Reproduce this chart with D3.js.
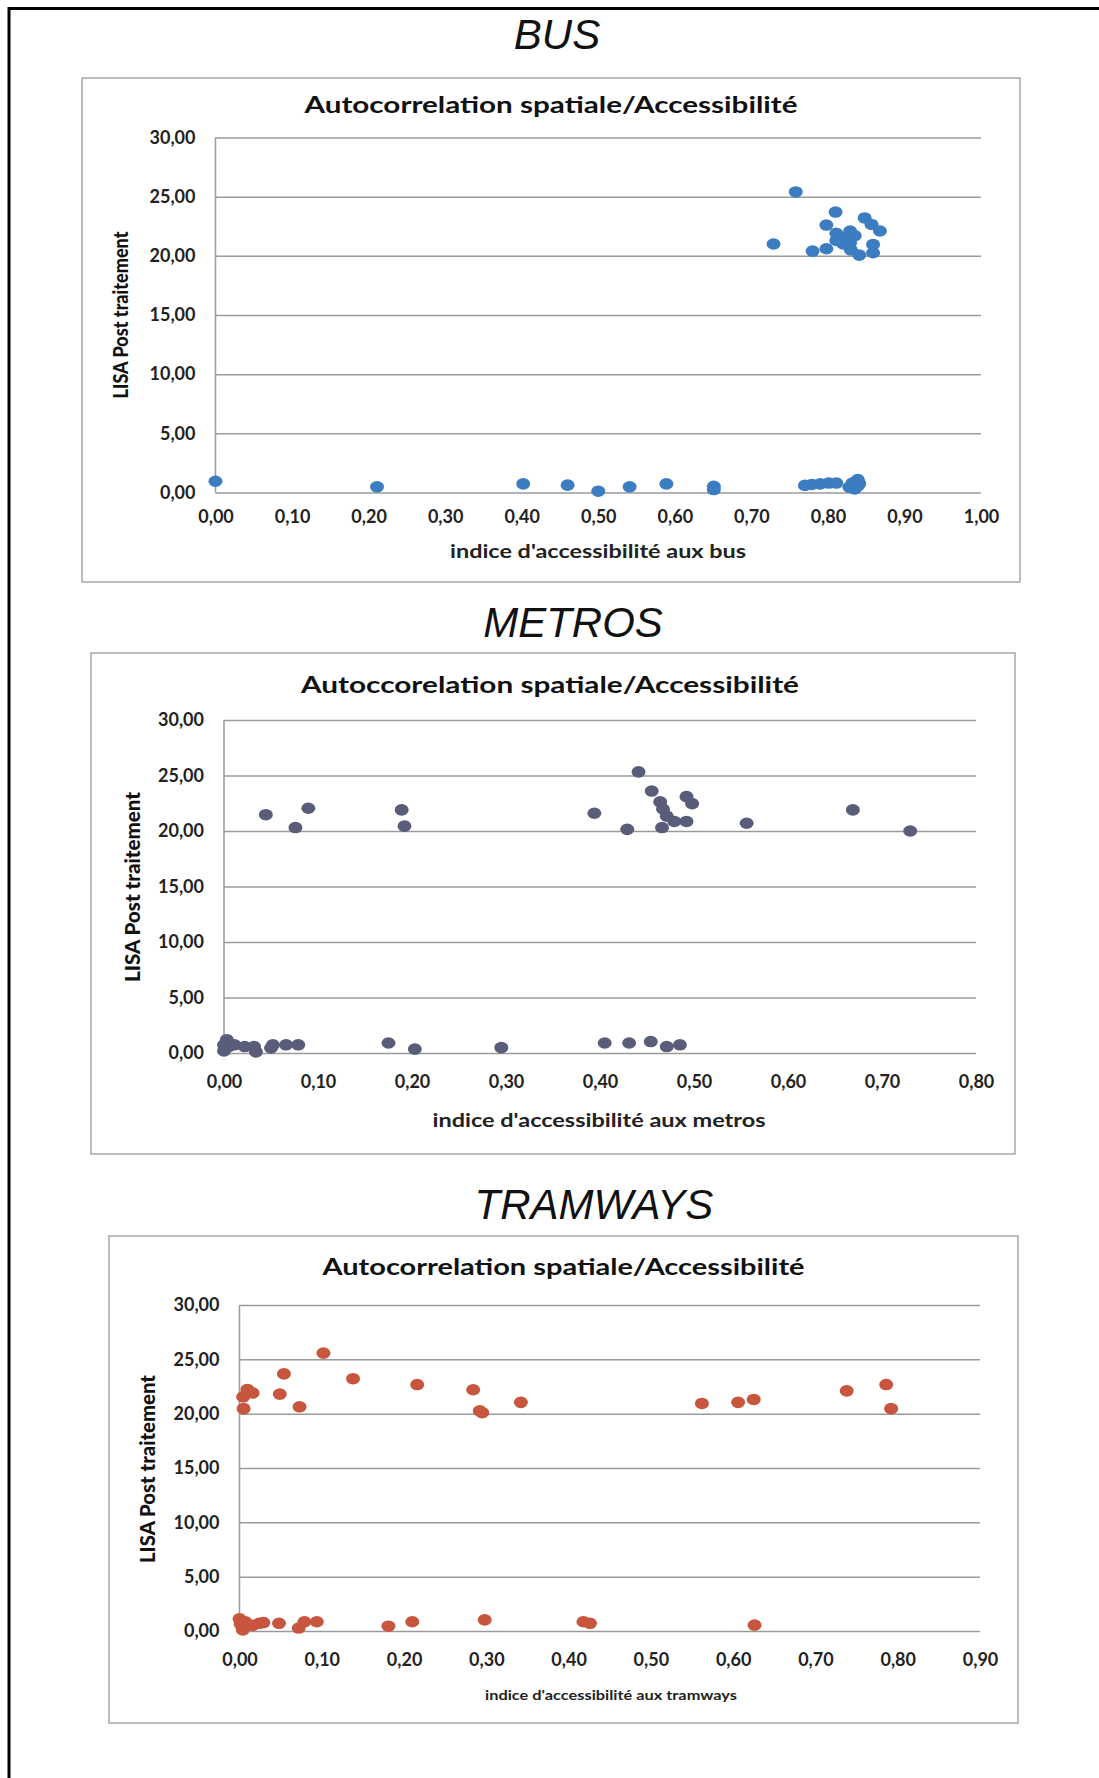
<!DOCTYPE html>
<html>
<head>
<meta charset="utf-8">
<script src="https://cdn.jsdelivr.net/npm/d3@7"></script>
<style>
  body { margin: 0; background: #fff; }
  svg { display: block; }
  .heading { font-family: "Liberation Sans", Arial, sans-serif; font-style: italic; font-size: 42px; fill: #111; }
  .ctitle { font-family: Lato, "Open Sans", sans-serif; font-weight: bold; font-size: 22px; fill: #111; }
  .tick text { font-family: Lato, "Open Sans", sans-serif; font-weight: bold; font-size: 18px; fill: #222; }
  .ytitle { font-family: Lato, "Open Sans", sans-serif; font-weight: 900; font-size: 20px; fill: #111; }
  .xtitle { font-family: Lato, "Open Sans", sans-serif; font-weight: bold; font-size: 18px; fill: #222; }
</style>
</head>
<body>
<svg id="page"></svg>
<script>
var width = 1099,
  height = 1778;

// BUS
var busX = [0.00, 0.211, 0.402, 0.46, 0.50, 0.541, 0.589, 0.651, 0.651, 0.77, 0.779, 0.79, 0.801, 0.811, 0.828, 0.832, 0.835, 0.839, 0.839, 0.841,
  0.758, 0.729, 0.780, 0.798, 0.798, 0.810, 0.811, 0.811, 0.820, 0.829, 0.829, 0.830, 0.841, 0.848, 0.857, 0.859, 0.859, 0.868, 0.820, 0.835];
var busY = [0.95, 0.48, 0.73, 0.62, 0.11, 0.48, 0.73, 0.53, 0.25, 0.60, 0.68, 0.73, 0.80, 0.80, 0.45, 0.80, 0.30, 1.10, 0.55, 0.75,
  25.4, 21.0, 20.4, 20.6, 22.6, 23.7, 21.9, 21.3, 21.5, 22.1, 21.1, 20.5, 20.06, 23.2, 22.65, 20.96, 20.26, 22.1, 21.0, 21.7];

// METROS
var metroX = [0.0445, 0.076, 0.0897, 0.189, 0.192, 0.394, 0.429, 0.441, 0.455, 0.464, 0.467, 0.466, 0.471, 0.479, 0.492, 0.498, 0.492, 0.556, 0.669, 0.730,
  0.000, 0.000, 0.003, 0.005, 0.011, 0.022, 0.032, 0.034, 0.050, 0.052, 0.066, 0.079, 0.175, 0.203, 0.295, 0.405, 0.431, 0.454, 0.471, 0.485];
var metroY = [21.47, 20.31, 22.05, 21.9, 20.44, 21.6, 20.15, 25.33, 23.6, 22.63, 21.98, 20.31, 21.34, 20.86, 23.1, 22.47, 20.86, 20.7, 21.9, 20.0,
  0.74, 0.19, 1.2, 0.58, 0.74, 0.58, 0.58, 0.10, 0.45, 0.74, 0.74, 0.74, 0.90, 0.35, 0.48, 0.90, 0.90, 1.03, 0.58, 0.74];

// TRAMWAYS
var tramX = [0.0044, 0.005, 0.0096, 0.016, 0.049, 0.054, 0.073, 0.102, 0.138, 0.216, 0.284, 0.292, 0.295, 0.342, 0.562, 0.606, 0.625, 0.738, 0.786, 0.792,
  0.000, 0.0015, 0.004, 0.007, 0.011, 0.016, 0.024, 0.029, 0.048, 0.072, 0.079, 0.094, 0.181, 0.210, 0.298, 0.418, 0.426, 0.626];
var tramY = [21.55, 20.46, 22.23, 21.9, 21.8, 23.66, 20.63, 25.57, 23.22, 22.68, 22.2, 20.26, 20.09, 21.04, 20.94, 21.04, 21.31, 22.1, 22.68, 20.46,
  1.12, 0.61, 0.10, 0.85, 0.60, 0.51, 0.71, 0.78, 0.71, 0.27, 0.85, 0.85, 0.44, 0.85, 1.02, 0.85, 0.71, 0.54];

var yTicks = [0, 5, 10, 15, 20, 25, 30];
var busTicks = [0, 0.1, 0.2, 0.3, 0.4, 0.5, 0.6, 0.7, 0.8, 0.9, 1.0];
var metroTicks = [0, 0.1, 0.2, 0.3, 0.4, 0.5, 0.6, 0.7, 0.8];
var tramTicks = [0, 0.1, 0.2, 0.3, 0.4, 0.5, 0.6, 0.7, 0.8, 0.9];

var fr = d3.formatLocale({ decimal: ",", thousands: " ", grouping: [3], currency: ["", " €"] });
var fmt = fr.format(".2f");

var svg = d3.select("#page")
  .attr("width", width)
  .attr("height", height);

// outer frame (top and left edges only)
svg.append("path")
  .attr("d", "M9,1778 V8.5 H1099")
  .attr("fill", "none")
  .attr("stroke", "#000")
  .attr("stroke-width", 3);

var charts = [
  { heading: "BUS", hx: 557, hy: 34,
    box: [82, 78, 1020, 582], px: [215.5, 981], py: [492.5, 137.5],
    title: "Autocorrelation spatiale/Accessibilité", tx: 551, ty: 104, tw: 493,
    xt: "indice d'accessibilité aux bus", xtx: 598, xty: 551, xtw: 296, xfs: 18,
    ytx: 120, yty: 315, ytw: 167, xpad: 18,
    xdom: [0, 1], ticks: busTicks, xs: busX, ys: busY, color: "#3b7dc0" },
  { heading: "METROS", hx: 573, hy: 622,
    box: [91, 653, 1015, 1154], px: [224, 976], py: [1053, 720],
    title: "Autoccorelation spatiale/Accessibilité", tx: 550, ty: 684.5, tw: 498,
    xt: "indice d'accessibilité aux metros", xtx: 599, xty: 1119.5, xtw: 333, xfs: 18,
    ytx: 131.5, yty: 887, ytw: 190, xpad: 22,
    xdom: [0, 0.8], ticks: metroTicks, xs: metroX, ys: metroY, color: "#5a5d7a" },
  { heading: "TRAMWAYS", hx: 594, hy: 1204,
    box: [109, 1236, 1018, 1723], px: [239.5, 980], py: [1631, 1305],
    title: "Autocorrelation spatiale/Accessibilité", tx: 563.5, ty: 1266, tw: 482,
    xt: "indice d'accessibilité  aux tramways", xtx: 611, xty: 1694, xtw: 252, xfs: 14,
    ytx: 147, yty: 1469, ytw: 188, xpad: 22,
    xdom: [0, 0.9], ticks: tramTicks, xs: tramX, ys: tramY, color: "#c8553d" }
];

charts.forEach(function (c) {
  var g = svg.append("g");

  g.append("text")
    .attr("class", "heading")
    .attr("x", c.hx)
    .attr("y", c.hy)
    .attr("text-anchor", "middle")
    .attr("dominant-baseline", "central")
    .text(c.heading);

  g.append("rect")
    .attr("x", c.box[0])
    .attr("y", c.box[1])
    .attr("width", c.box[2] - c.box[0])
    .attr("height", c.box[3] - c.box[1])
    .attr("fill", "#fff")
    .attr("stroke", "#a8a8a8")
    .attr("stroke-width", 1.5);

  g.append("text")
    .attr("class", "ctitle")
    .attr("x", c.tx)
    .attr("y", c.ty)
    .attr("text-anchor", "middle")
    .attr("dominant-baseline", "central")
    .attr("textLength", c.tw)
    .attr("lengthAdjust", "spacingAndGlyphs")
    .text(c.title);

  var x = d3.scaleLinear().domain(c.xdom).range(c.px);
  var y = d3.scaleLinear().domain([0, 30]).range(c.py);

  // horizontal gridlines + y labels
  var yAxis = g.append("g")
    .attr("transform", "translate(" + c.px[0] + ",0)")
    .call(d3.axisLeft(y).tickValues(yTicks).tickFormat(fmt)
      .tickSize(-(c.px[1] - c.px[0])).tickPadding(20));
  yAxis.select(".domain").remove();
  yAxis.selectAll(".tick line").attr("stroke", "#9a9a9a").attr("stroke-width", 1.5);

  // x labels
  var xAxis = g.append("g")
    .attr("transform", "translate(0," + c.py[0] + ")")
    .call(d3.axisBottom(x).tickValues(c.ticks).tickFormat(fmt).tickSize(0).tickPadding(c.xpad));
  xAxis.select(".domain").remove();

  // vertical axis line
  g.append("line")
    .attr("x1", c.px[0]).attr("x2", c.px[0])
    .attr("y1", y(0)).attr("y2", y(30))
    .attr("stroke", "#9a9a9a")
    .attr("stroke-width", 1.5);

  g.append("text")
    .attr("class", "xtitle")
    .attr("x", c.xtx)
    .attr("y", c.xty)
    .attr("text-anchor", "middle")
    .attr("dominant-baseline", "central")
    .attr("textLength", c.xtw)
    .attr("lengthAdjust", "spacingAndGlyphs")
    .style("font-size", c.xfs + "px")
    .text(c.xt);

  g.append("text")
    .attr("class", "ytitle")
    .attr("transform", "translate(" + c.ytx + "," + c.yty + ") rotate(-90)")
    .attr("text-anchor", "middle")
    .attr("dominant-baseline", "central")
    .attr("textLength", c.ytw)
    .attr("lengthAdjust", "spacingAndGlyphs")
    .text("LISA Post traitement");

  g.append("g")
    .selectAll("ellipse")
    .data(d3.range(c.xs.length))
    .enter().append("ellipse")
      .attr("cx", function (i) { return x(c.xs[i]); })
      .attr("cy", function (i) { return y(c.ys[i]); })
      .attr("rx", 7)
      .attr("ry", 5.8)
      .attr("fill", c.color);
});
</script>
</body>
</html>
